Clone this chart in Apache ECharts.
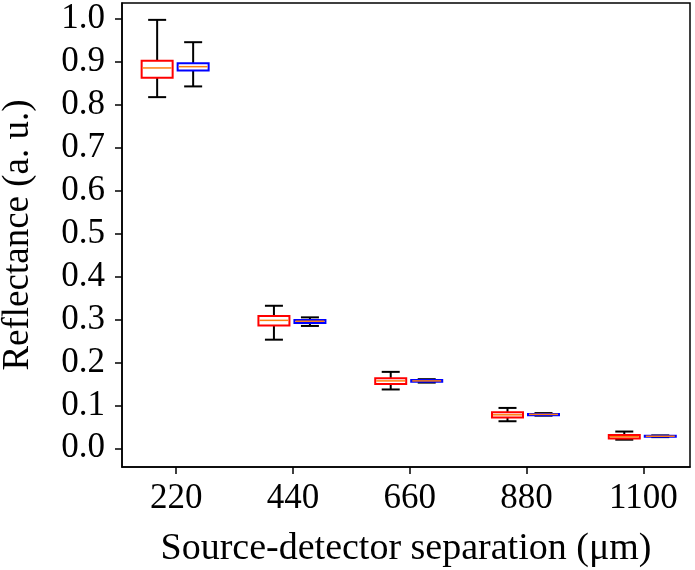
<!DOCTYPE html>
<html>
<head>
<meta charset="utf-8">
<script src="https://cdn.jsdelivr.net/npm/echarts@6/dist/echarts.min.js"></script>
<style>html,body{margin:0;padding:0;background:#fff;}#c{width:695px;height:570px;}</style>
</head>
<body>
<div id="c"></div>
<script>
// Source-detector separations (µm)
var separations = [220, 440, 660, 880, 1100];
// Box stats: [min, q1, median, q3, max]
var redStats = [
  [0.818, 0.863, 0.886, 0.903, 0.998],
  [0.253, 0.286, 0.298, 0.308, 0.332],
  [0.137, 0.150, 0.157, 0.163, 0.178],
  [0.063, 0.072, 0.078, 0.084, 0.094],
  [0.020, 0.023, 0.027, 0.031, 0.039]
];
var blueStats = [
  [0.843, 0.880, 0.889, 0.897, 0.946],
  [0.285, 0.292, 0.296, 0.299, 0.305],
  [0.153, 0.155, 0.157, 0.159, 0.161],
  [0.076, 0.077, 0.079, 0.080, 0.082],
  [0.026, 0.027, 0.028, 0.029, 0.030]
];
var yTicks = [0, 0.1, 0.2, 0.3, 0.4, 0.5, 0.6, 0.7, 0.8, 0.9, 1.0];

function buildData(stats) {
  return stats.map(function (s, i) { return [separations[i]].concat(s); });
}

function makeRender(offsetPx, boxColor) {
  return function (params, api) {
    var x = api.value(0);
    var pMin = api.coord([x, api.value(1)]);
    var pQ1 = api.coord([x, api.value(2)]);
    var pMed = api.coord([x, api.value(3)]);
    var pQ3 = api.coord([x, api.value(4)]);
    var pMax = api.coord([x, api.value(5)]);
    var cx = pMin[0] + offsetPx;
    var hw = 15.5, cap = 9;
    var black = {stroke: '#000', lineWidth: 2};
    return {
      type: 'group',
      children: [
        {type: 'line', shape: {x1: cx, y1: pMax[1], x2: cx, y2: pMin[1]}, style: black},
        {type: 'line', shape: {x1: cx - cap, y1: pMax[1], x2: cx + cap, y2: pMax[1]}, style: black},
        {type: 'line', shape: {x1: cx - cap, y1: pMin[1], x2: cx + cap, y2: pMin[1]}, style: black},
        {type: 'rect', shape: {x: cx - hw, y: pQ3[1], width: hw * 2, height: Math.max(pQ1[1] - pQ3[1], 0.5)},
          style: {fill: '#fff', stroke: boxColor, lineWidth: 2}},
        {type: 'line', shape: {x1: cx - hw + 1, y1: pMed[1], x2: cx + hw - 1, y2: pMed[1]},
          style: {stroke: '#ff7f0e', lineWidth: 1.5}}
      ]
    };
  };
}

var font = 'Liberation Serif';
var chart = echarts.init(document.getElementById('c'), null, {renderer: 'canvas'});
chart.setOption({
  animation: false,
  backgroundColor: '#fff',
  grid: {left: 122, top: 3, right: 5, bottom: 103, show: true, borderColor: '#000', borderWidth: 1.5,
    backgroundColor: 'transparent', containLabel: false, outerBoundsMode: 'none'},
  xAxis: {
    type: 'value', min: 118, max: 1188,
    name: 'Source-detector separation (μm)', nameLocation: 'middle', nameGap: 63,
    nameTextStyle: {fontFamily: font, fontSize: 38, color: '#000'},
    axisLine: {show: true, onZero: false, lineStyle: {color: '#000', width: 1.5}},
    axisTick: {show: true, length: 7, customValues: separations, lineStyle: {color: '#000', width: 1.5}},
    axisLabel: {customValues: separations, fontFamily: font, fontSize: 35, color: '#000', margin: 14,
      formatter: function (v) { return String(v); }},
    splitLine: {show: false}
  },
  yAxis: {
    type: 'value', min: -0.0436, max: 1.0373,
    name: 'Reflectance (a. u.)', nameLocation: 'middle', nameGap: 85, nameRotate: 90,
    nameTextStyle: {fontFamily: font, fontSize: 37, color: '#000'},
    axisLine: {show: true, onZero: false, lineStyle: {color: '#000', width: 1.5}},
    axisTick: {show: true, length: 7, customValues: yTicks, lineStyle: {color: '#000', width: 1.5}},
    axisLabel: {customValues: yTicks, fontFamily: font, fontSize: 35, color: '#000', margin: 17,
      formatter: function (v) { return (+v).toFixed(1); }},
    splitLine: {show: false}
  },
  series: [
    {type: 'custom', name: 'red', renderItem: makeRender(-19, '#ff0000'), data: buildData(redStats), encode: {x: 0, y: [1, 2, 3, 4, 5]}, clip: false},
    {type: 'custom', name: 'blue', renderItem: makeRender(17, '#0000ff'), data: buildData(blueStats), encode: {x: 0, y: [1, 2, 3, 4, 5]}, clip: false}
  ]
});
</script>
</body>
</html>
